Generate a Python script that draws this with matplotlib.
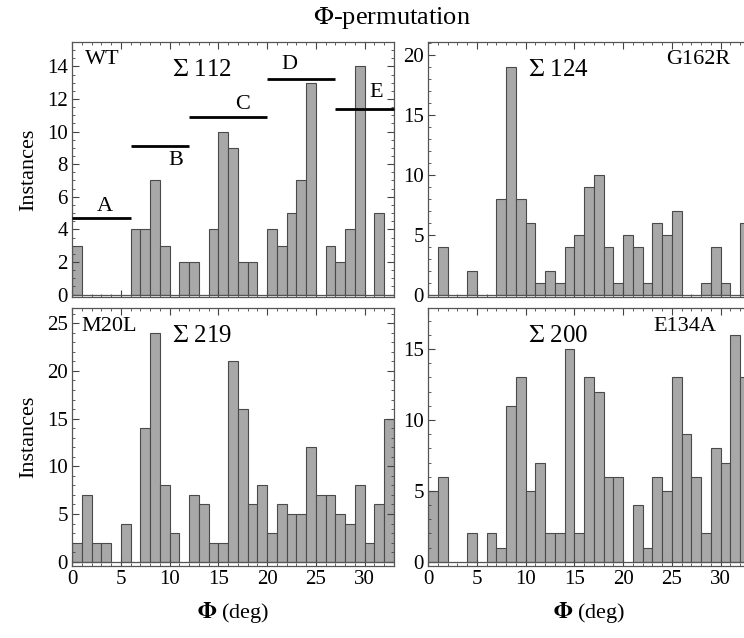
import numpy as np
import matplotlib.pyplot as plt
from matplotlib.ticker import MultipleLocator, AutoMinorLocator

plt.rcParams.update({
    "font.family": ["Liberation Serif", "DejaVu Serif"],
    "font.size": 15,
    "mathtext.fontset": "stix",
})

# counts per 1-degree bin, bins 0..33
bins = np.arange(33)
wt = [3, 0, 0, 0, 0, 0, 4, 4, 7, 3, 0, 2, 2, 0, 4, 10, 9, 2, 2, 0, 4, 3, 5, 7, 13, 0, 3, 2, 4, 14, 0, 5, 0]
g162r = [0, 4, 0, 0, 2, 0, 0, 8, 19, 8, 6, 1, 2, 1, 4, 5, 9, 10, 4, 1, 5, 4, 1, 6, 5, 7, 0, 0, 1, 4, 1, 0, 6]
m20l = [2, 7, 2, 2, 0, 4, 0, 14, 24, 8, 3, 0, 7, 6, 2, 2, 21, 16, 6, 8, 3, 6, 5, 5, 12, 7, 7, 5, 4, 8, 2, 6, 15]
e134a = [5, 6, 0, 0, 2, 0, 2, 1, 11, 13, 5, 7, 2, 2, 15, 2, 13, 12, 6, 6, 0, 4, 1, 6, 5, 13, 9, 6, 2, 8, 7, 16, 13]

# WT region bars: (start, end, height, label, label_x, label_y)
regions = [
    (0, 6, 4.7, "A", 3.4, 5.4),
    (6, 12, 9.1, "B", 10.6, 8.2),
    (12, 20, 10.9, "C", 17.5, 11.65),
    (20, 27, 13.25, "D", 22.3, 14.1),
    (27, 33, 11.4, "E", 31.2, 12.4),
]

W, H = 744, 638
fig = plt.figure(figsize=(W / 100, H / 100), dpi=100)


def add_ax(x0, y0, x1, y1):
    return fig.add_axes([x0 / W, 1 - y1 / H, (x1 - x0) / W, (y1 - y0) / H])


panels = [
    # data, frame box (px), ylim, ymajor, name, name pos, sum pos
    (wt, (72, 42, 394, 297), (-0.15, 15.5), 2, "WT", (0.04, 0.93), "112", (0.31, 0.89)),
    (g162r, (428, 42, 750, 297), (-0.2, 21.1), 5, "G162R", (0.74, 0.93), "124", (0.31, 0.89)),
    (m20l, (72, 308, 394, 566), (-0.45, 26.6), 5, "M20L", (0.03, 0.93), "219", (0.31, 0.89)),
    (e134a, (428, 308, 750, 566), (-0.3, 17.9), 5, "E134A", (0.70, 0.93), "200", (0.31, 0.89)),
]

axes = []
for i, (vals, box, ylim, ymaj, name, npos, total, spos) in enumerate(panels):
    ax = add_ax(*box)
    vals = np.array(vals)
    nz = vals > 0
    ax.bar(bins[nz], vals[nz], width=1.0, align="edge", color="#a8a8a8",
           edgecolor="#4a4a4a", linewidth=0.8)
    ax.axhline(0, color="#555555", lw=0.9, zorder=3)
    ax.set_xlim(0, 33)
    ax.set_ylim(*ylim)
    ax.xaxis.set_major_locator(MultipleLocator(5))
    ax.xaxis.set_minor_locator(MultipleLocator(1))
    ax.yaxis.set_major_locator(MultipleLocator(ymaj))
    ax.yaxis.set_minor_locator(AutoMinorLocator(4 if ymaj == 2 else 5))
    ax.tick_params(which="both", direction="in", top=True, right=(i % 2 == 0),
                   color="#444444", labelsize=15, pad=3)
    ax.tick_params(which="major", length=5, width=0.8)
    ax.tick_params(which="minor", length=2.5, width=0.6)
    for s in ax.spines.values():
        s.set_color("#555555")
        s.set_linewidth(0.9)
    if i < 2:
        ax.set_xticklabels([])
    else:
        ax.set_xlabel(r"$\mathbf{\Phi}$ (deg)", fontsize=16, labelpad=8)
    if i % 2 == 0:
        ax.set_ylabel("Instances", fontsize=16, labelpad=6)
    ax.text(npos[0], npos[1], name, transform=ax.transAxes, fontsize=16,
            va="center", ha="left")
    ax.text(spos[0], spos[1], r"$\Sigma$ " + total, transform=ax.transAxes,
            fontsize=18, va="center", ha="left")
    axes.append(ax)

ax = axes[0]
for x0, x1, h, lab, lx, ly in regions:
    ax.plot([x0, x1], [h, h], color="black", lw=2, solid_capstyle="butt",
            clip_on=False, zorder=4)
    ax.text(lx, ly, lab, fontsize=16, ha="center", va="center")

fig.text(392 / W, 1 - 18 / H, r"$\Phi$-permutation", fontsize=19,
         ha="center", va="center")

plt.savefig("out.png", dpi=100)
